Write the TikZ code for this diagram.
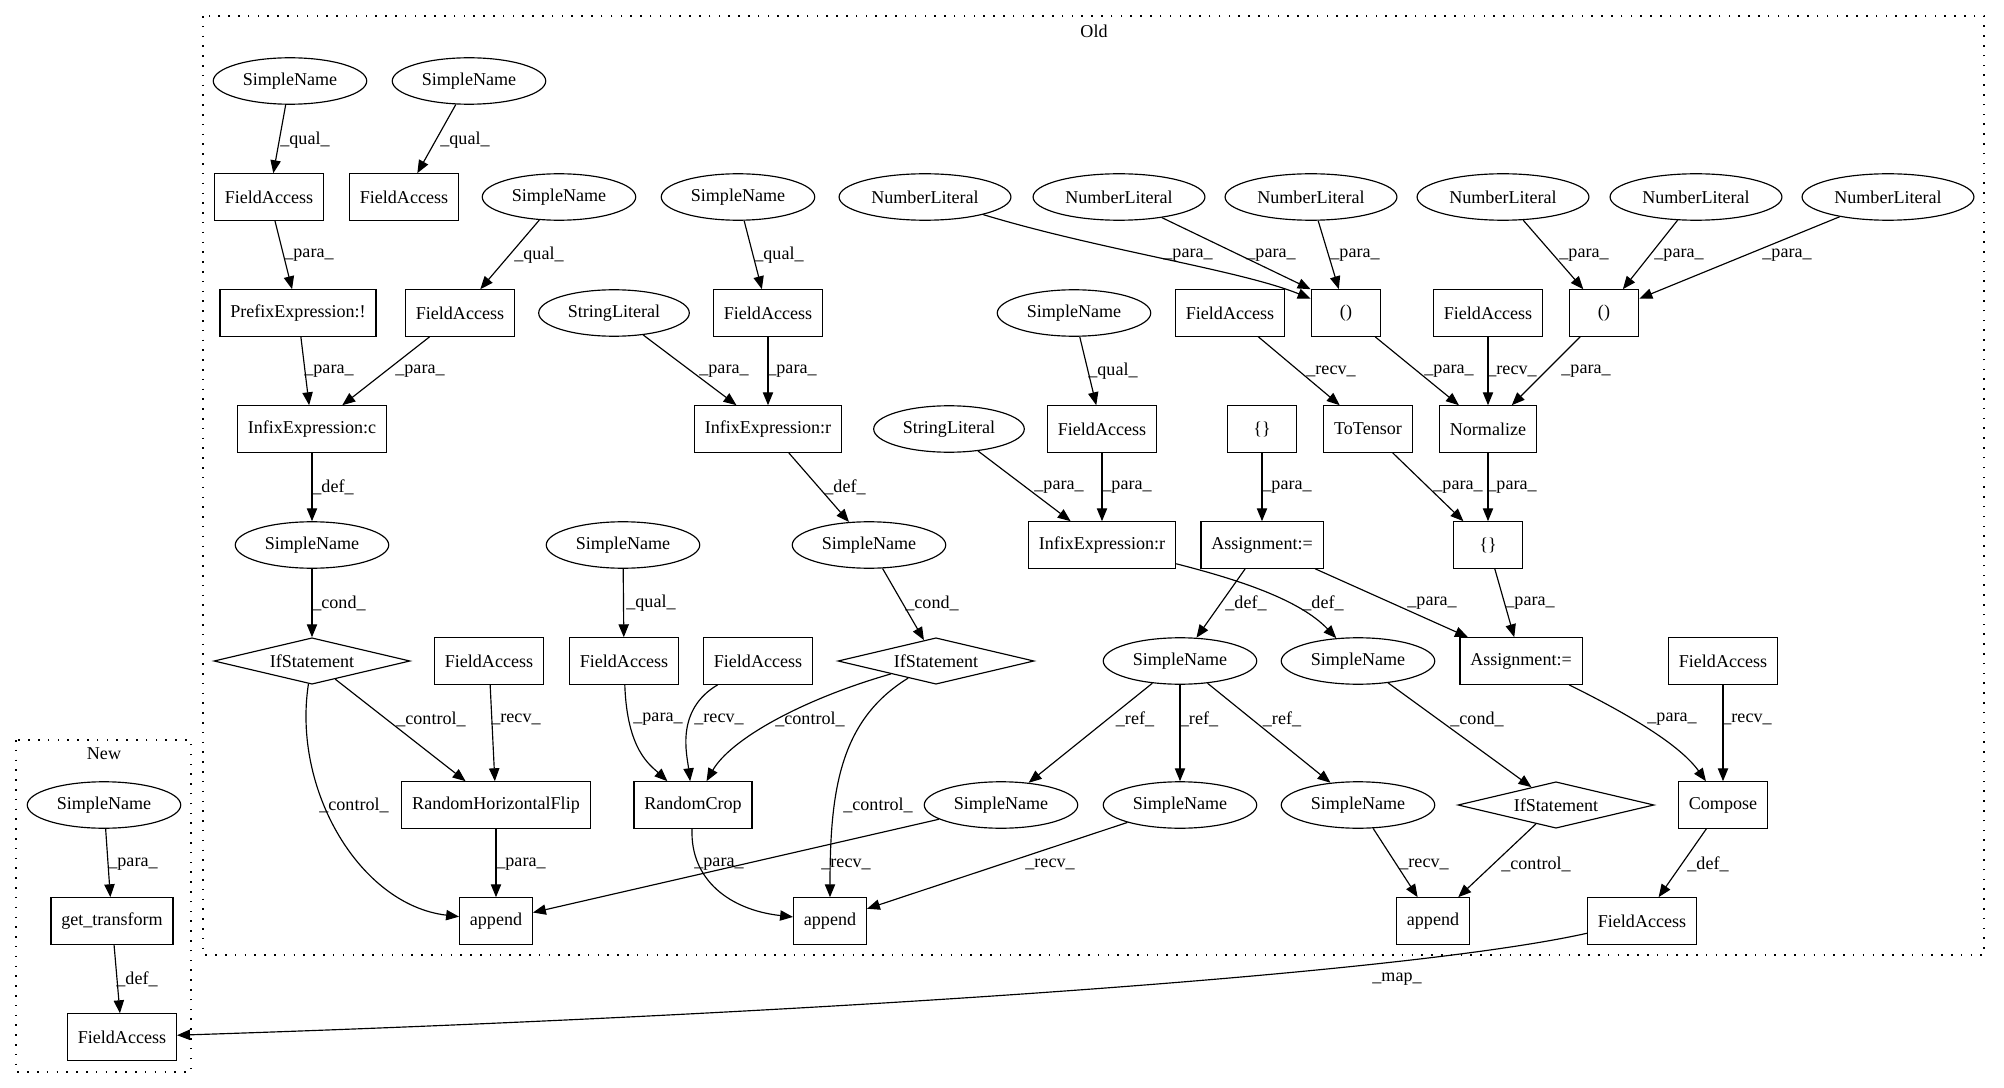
\documentclass[tikz,border=0pt]{standalone}
\usepackage{fontspec}
\setmainfont{Liberation Serif}
\usetikzlibrary{arrows.meta, shapes.geometric, positioning}

\begin{document}
\begin{tikzpicture}[
  x=0.775pt, y=-0.775pt,
  every node/.style={font=\fontsize{14pt}{16pt}\selectfont},
  block/.style={draw, rectangle, line width=0.9pt, minimum width=54pt, minimum height=36pt, inner xsep=8pt},
  ell/.style={draw, ellipse, line width=0.9pt, minimum width=54pt, minimum height=36pt, inner xsep=5.5pt, inner ysep=0pt},
  dia/.style={draw, diamond, line width=0.9pt, shape aspect=4.2, minimum width=152pt, minimum height=36pt, inner sep=0pt},
  arr/.style={-{Triangle[length=10pt, width=8pt]}, line width=0.9pt},
  lbl/.style={inner sep=0pt},
  cluster/.style={line width=1pt, dash pattern=on 1.2pt off 6.4pt}
]
  \useasboundingbox (0,0) rectangle (2004,1088);
  % clusters
  \draw[cluster] (203,16) rectangle (1984,955);
  \node (oldT) at (1094,31) {Old};
  \draw[cluster] (16,740) rectangle (191,1072);
  \node (newT) at (104,754) {New};

  % row 1-2
  \node[ell] (snA) at (290,81) {SimpleName};
  \node[ell] (snB) at (469,81) {SimpleName};
  \node[block] (faA) at (269,197) {FieldAccess};
  \node[block] (faB) at (404,197) {FieldAccess};
  \node[ell] (snC) at (559,197) {SimpleName};
  \node[ell] (snF) at (738,197) {SimpleName};
  \node[ell] (nlA) at (925,197) {NumberLiteral};
  \node[ell] (nlB) at (1119,197) {NumberLiteral};
  \node[ell] (nlC) at (1311,197) {NumberLiteral};
  \node[ell] (nlD) at (1503,197) {NumberLiteral};
  \node[ell] (nlE) at (1696,197) {NumberLiteral};
  \node[ell] (nlF) at (1888,197) {NumberLiteral};
  % row 3
  \node[block] (prefix) at (298,313) {PrefixExpression:!};
  \node[block] (faC) at (460,313) {FieldAccess};
  \node[ell] (strA) at (614,313) {StringLiteral};
  \node[block] (faD) at (768,313) {FieldAccess};
  \node[ell] (snG) at (1074,313) {SimpleName};
  \node[block] (faE) at (1230,313) {FieldAccess};
  \node[block] (parA) at (1346,313) {()};
  \node[block] (faG) at (1488,313) {FieldAccess};
  \node[block] (parB) at (1604,313) {()};
  % row 4
  \node[block] (infC) at (312,429) {InfixExpression:c};
  \node[block] (infRA) at (768,429) {InfixExpression:r};
  \node[ell] (strB) at (949,429) {StringLiteral};
  \node[block] (faF) at (1102,429) {FieldAccess};
  \node[block] (curA) at (1262,429) {\{\}};
  \node[block] (toTensor) at (1368,429) {ToTensor};
  \node[block] (normalize) at (1488,429) {Normalize};
  % row 5
  \node[ell] (snD) at (312,545) {SimpleName};
  \node[ell] (snE) at (623,545) {SimpleName};
  \node[ell] (snH) at (869,545) {SimpleName};
  \node[block] (infRB) at (1102,545) {InfixExpression:r};
  \node[block] (asgA) at (1262,545) {Assignment:=};
  \node[block] (curB) at (1488,545) {\{\}};
  % row 6
  \node[dia] (ifA) at (312,661) {IfStatement};
  \node[block] (faH) at (489,661) {FieldAccess};
  \node[block] (faI) at (624,661) {FieldAccess};
  \node[block] (faJ) at (758,661) {FieldAccess};
  \node[dia] (ifB) at (936,661) {IfStatement};
  \node[ell] (snI) at (1180,661) {SimpleName};
  \node[ell] (snJ) at (1358,661) {SimpleName};
  \node[block] (asgB) at (1521,661) {Assignment:=};
  \node[block] (faK) at (1723,661) {FieldAccess};
  % row 7
  \node[block] (rhf) at (496,805) {RandomHorizontalFlip};
  \node[block] (rcrop) at (693,805) {RandomCrop};
  \node[ell] (snK) at (1001,805) {SimpleName};
  \node[ell] (snL) at (1180,805) {SimpleName};
  \node[ell] (snM) at (1358,805) {SimpleName};
  \node[dia] (ifC) at (1556,805) {IfStatement};
  \node[block] (compose) at (1723,805) {Compose};
  % row 8
  \node[block] (appA) at (496,921) {append};
  \node[block] (appB) at (830,921) {append};
  \node[block] (appC) at (1433,921) {append};
  \node[block] (faL) at (1642,921) {FieldAccess};
  % new
  \node[ell] (snN) at (104,805) {SimpleName};
  \node[block] (getT) at (112,921) {get\_transform};
  \node[block] (faN) at (122,1037) {FieldAccess};

  % edges, left part
  \draw[arr] (snA) -- (faA) node[lbl] at (305,140) {\_qual\_};
  \draw[arr] (snB) -- (faB) node[lbl] at (465,140) {\_qual\_};
  \draw[arr] (faA) -- (prefix) node[lbl] at (309,255) {\_para\_};
  \draw[arr] (snC) -- (faC) node[lbl] at (539,255) {\_qual\_};
  \draw[arr] (prefix) -- (infC) node[lbl] at (329,371) {\_para\_};
  \draw[arr] (faC) -- (infC) node[lbl] at (420,371) {\_para\_};
  \draw[arr] (infC) -- (snD) node[lbl] at (333,487) {\_def\_};
  \draw[arr] (snD) -- (ifA) node[lbl] at (339,603) {\_cond\_};
  \draw[arr] (ifA) -- (rhf) node[lbl] at (431,719) {\_control\_};
  \draw[arr] (ifA) .. controls (292,790) and (360,905) .. (appA) node[lbl] at (354,805) {\_control\_};
  \draw[arr] (faH) -- (rhf) node[lbl] at (516,719) {\_recv\_};
  \draw[arr] (rhf) -- (appA) node[lbl] at (521,864) {\_para\_};
  \draw[arr] (snE) -- (faI) node[lbl] at (651,603) {\_qual\_};
  \draw[arr] (faI) .. controls (627,750) and (650,765) .. (rcrop) node[lbl] at (658,719) {\_para\_};
  \draw[arr] (faJ) .. controls (675,710) and (687,755) .. (rcrop) node[lbl] at (719,719) {\_recv\_};
  \draw[arr] (ifB) .. controls (800,700) and (730,740) .. (rcrop) node[lbl] at (810,719) {\_control\_};
  \draw[arr] (ifB) .. controls (840,720) and (830,790) .. (appB) node[lbl] at (878,805) {\_control\_};
  \draw[arr] (rcrop) .. controls (690,880) and (730,910) .. (appB) node[lbl] at (719,864) {\_para\_};
  \draw[arr] (snK) -- (appA) node[lbl] at (846,864) {\_recv\_};
  \draw[arr] (snL) -- (appB) node[lbl] at (1050,864) {\_recv\_};
  % edges, middle part
  \draw[arr] (snF) -- (faD) node[lbl] at (779,255) {\_qual\_};
  \draw[arr] (strA) -- (infRA) node[lbl] at (724,371) {\_para\_};
  \draw[arr] (faD) -- (infRA) node[lbl] at (792,371) {\_para\_};
  \draw[arr] (infRA) -- (snH) node[lbl] at (845,487) {\_def\_};
  \draw[arr] (snH) -- (ifB) node[lbl] at (932,603) {\_cond\_};
  \draw[arr] (snG) -- (faF) node[lbl] at (1113,371) {\_qual\_};
  \draw[arr] (strB) -- (infRB) node[lbl] at (1059,487) {\_para\_};
  \draw[arr] (faF) -- (infRB) node[lbl] at (1127,487) {\_para\_};
  \draw[arr] (infRB) .. controls (1240,580) and (1300,600) .. (snJ) node[lbl] at (1323,603) {\_def\_};
  \draw[arr] (curA) -- (asgA) node[lbl] at (1287,487) {\_para\_};
  \draw[arr] (asgA) -- (snI) node[lbl] at (1246,603) {\_def\_};
  \draw[arr] (asgA) -- (asgB) node[lbl] at (1432,603) {\_para\_};
  \draw[arr] (snI) -- (snK) node[lbl] at (1135,719) {\_ref\_};
  \draw[arr] (snI) -- (snL) node[lbl] at (1199,719) {\_ref\_};
  \draw[arr] (snI) -- (snM) node[lbl] at (1282,719) {\_ref\_};
  \draw[arr] (snJ) -- (ifC) node[lbl] at (1477,719) {\_cond\_};
  \draw[arr] (snM) -- (appC) node[lbl] at (1424,864) {\_recv\_};
  \draw[arr] (ifC) -- (appC) node[lbl] at (1536,864) {\_control\_};
  % edges, right part
  \draw[arr] (nlA) .. controls (1100,250) and (1240,270) .. (parA) node[lbl] at (1188,255) {\_para\_};
  \draw[arr] (nlB) -- (parA.north west) node[lbl] at (1271,255) {\_para\_};
  \draw[arr] (nlC) -- (parA) node[lbl] at (1355,255) {\_para\_};
  \draw[arr] (nlD) -- (parB) node[lbl] at (1584,255) {\_para\_};
  \draw[arr] (nlE) -- (parB) node[lbl] at (1679,255) {\_para\_};
  \draw[arr] (nlF) -- (parB) node[lbl] at (1787,255) {\_para\_};
  \draw[arr] (faE) -- (toTensor) node[lbl] at (1331,371) {\_recv\_};
  \draw[arr] (parA) -- (normalize) node[lbl] at (1449,371) {\_para\_};
  \draw[arr] (faG) -- (normalize) node[lbl] at (1512,371) {\_recv\_};
  \draw[arr] (parB) -- (normalize) node[lbl] at (1586,371) {\_para\_};
  \draw[arr] (toTensor) -- (curB) node[lbl] at (1458,487) {\_para\_};
  \draw[arr] (normalize) -- (curB) node[lbl] at (1512,487) {\_para\_};
  \draw[arr] (curB) -- (asgB) node[lbl] at (1530,603) {\_para\_};
  \draw[arr] (asgB) .. controls (1630,715) and (1680,745) .. (compose) node[lbl] at (1672,719) {\_para\_};
  \draw[arr] (faK) -- (compose) node[lbl] at (1747,719) {\_recv\_};
  \draw[arr] (compose) -- (faL) node[lbl] at (1708,864) {\_def\_};
  % new part
  \draw[arr] (snN) -- (getT) node[lbl] at (133,864) {\_para\_};
  \draw[arr] (getT) -- (faN) node[lbl] at (137,979) {\_def\_};
  \draw[arr] (faL) .. controls (1400,975) and (800,1015) .. (faN) node[lbl] at (1397,979) {\_map\_};
\end{tikzpicture}
\end{document}
